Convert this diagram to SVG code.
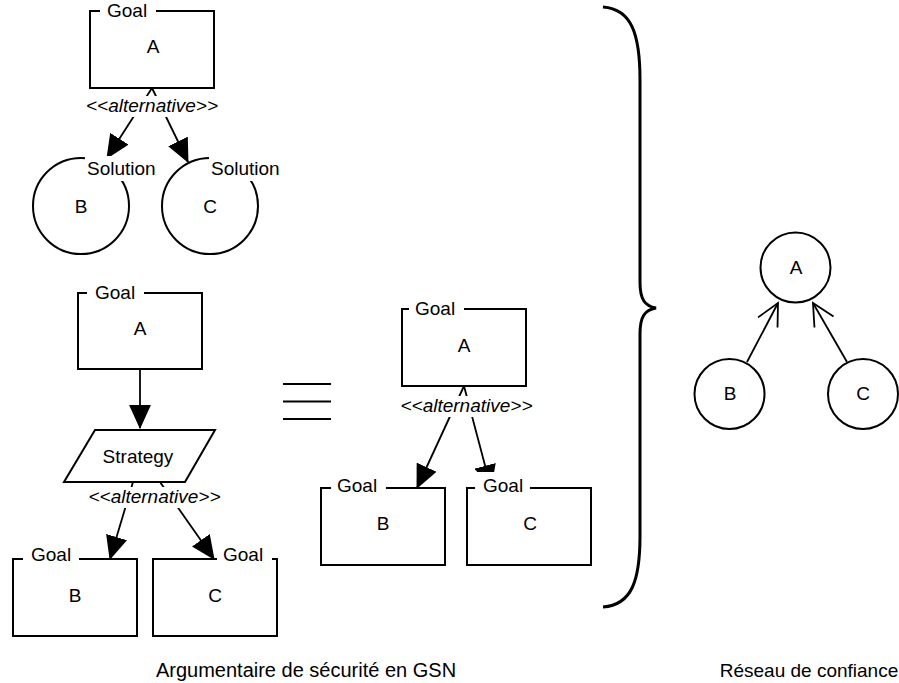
<svg xmlns="http://www.w3.org/2000/svg" width="899" height="683" viewBox="0 0 899 683">
<style>
text{font-family:"Liberation Sans",Arial,Helvetica,sans-serif;font-size:19px;fill:#000}
.c{text-anchor:middle}
.it{font-style:italic}
.sh{fill:none;stroke:#000;stroke-width:2}
.ln{fill:none;stroke:#000;stroke-width:1.8}
.bg{fill:#fff;stroke:none}
</style>
<defs>
<marker id="blk" markerUnits="userSpaceOnUse" markerWidth="24" markerHeight="22" viewBox="0 0 22 20" refX="21" refY="10" orient="auto">
<path d="M0,0 L22,10 L0,20 z" fill="#000"/>
</marker>
<marker id="opn" markerUnits="userSpaceOnUse" markerWidth="26" markerHeight="26" viewBox="-2 -13 26 26" refX="22" refY="0" orient="auto">
<path d="M0,-11 L22,0 L0,11" fill="none" stroke="#000" stroke-width="1.8"/>
</marker>
</defs>

<g id="connectors">
<line class="ln" x1="152" y1="88" x2="107" y2="158" marker-end="url(#blk)"/>
<line class="ln" x1="152" y1="88" x2="188" y2="162" marker-end="url(#blk)"/>
<rect class="bg" x="82" y="96" width="140" height="21"/>
<text class="c it" x="152" y="112">&lt;&lt;alternative&gt;&gt;</text>

<line class="ln" x1="140" y1="369" x2="140" y2="428" marker-end="url(#blk)"/>

<line class="ln" x1="133" y1="482" x2="110" y2="559" marker-end="url(#blk)"/>
<line class="ln" x1="160" y1="482" x2="214" y2="559" marker-end="url(#blk)"/>
<rect class="bg" x="85" y="487" width="140" height="21"/>
<text class="c it" x="154.5" y="503">&lt;&lt;alternative&gt;&gt;</text>

<line class="ln" x1="464" y1="386" x2="417" y2="488" marker-end="url(#blk)"/>
<line class="ln" x1="464" y1="386" x2="491" y2="488" marker-end="url(#blk)"/>
<rect class="bg" x="396" y="396" width="140" height="21"/>
<text class="c it" x="466.5" y="412">&lt;&lt;alternative&gt;&gt;</text>

<line class="ln" x1="747" y1="362" x2="778" y2="303" marker-end="url(#opn)"/>
<line class="ln" x1="847" y1="362" x2="813" y2="303" marker-end="url(#opn)"/>
</g>

<g id="goal-a-top">
<path class="sh" d="M100,11 H90 V88 H214 V11 H156"/>
<text x="107" y="17">Goal</text>
<text class="c" x="153" y="53">A</text>
</g>
<g id="solution-b">
<circle class="sh" cx="81" cy="206" r="48"/>
<rect class="bg" x="85" y="156" width="76" height="25"/>
<text x="87" y="175">Solution</text>
<text class="c" x="81" y="213">B</text>
</g>
<g id="solution-c">
<circle class="sh" cx="210" cy="206" r="48"/>
<rect class="bg" x="209" y="156" width="76" height="25"/>
<text x="211" y="175">Solution</text>
<text class="c" x="210" y="213">C</text>
</g>

<g id="goal-a-mid">
<path class="sh" d="M87,293 H78 V369 H202 V293 H144"/>
<text x="95" y="299">Goal</text>
<text class="c" x="140" y="335">A</text>
</g>
<g id="strategy">
<path class="sh" d="M95,430 H215 L185,482 H64 Z"/>
<text class="c" x="138" y="463">Strategy</text>
</g>
<g id="goal-b-bottom">
<path class="sh" d="M23,559 H13 V636 H137 V559 H79"/>
<text x="31" y="561">Goal</text>
<text class="c" x="75" y="602">B</text>
</g>
<g id="goal-c-bottom">
<path class="sh" d="M217,559 H153 V636 H277 V559 H272"/>
<rect class="bg" x="218" y="545" width="52" height="22"/>
<text x="223" y="561">Goal</text>
<text class="c" x="215" y="602">C</text>
</g>

<g id="equivalence">
<line class="sh" x1="283" y1="384" x2="331" y2="384"/>
<line class="sh" x1="283" y1="401.5" x2="331" y2="401.5"/>
<line class="sh" x1="283" y1="419" x2="331" y2="419"/>
</g>

<g id="goal-a-right">
<path class="sh" d="M409,309 H402 V386 H526 V309 H464"/>
<text x="415" y="315">Goal</text>
<text class="c" x="464" y="352">A</text>
</g>
<g id="goal-b-right">
<path class="sh" d="M331,488 H321 V565 H445 V488 H386"/>
<text x="337" y="492">Goal</text>
<text class="c" x="383" y="530">B</text>
</g>
<g id="goal-c-right">
<path class="sh" d="M475,488 H467 V565 H591 V488 H530"/>
<rect class="bg" x="476" y="472" width="53" height="22"/>
<text x="483" y="492">Goal</text>
<text class="c" x="530" y="530">C</text>
</g>

<g id="brace">
<path d="M603,7 C632,9 640,35 640,80 V282 C640,300 645,306 656,308 C645,310 640,316 640,334 V536 C640,580 632,605 603,607" fill="none" stroke="#000" stroke-width="3"/>
</g>

<g id="net-a">
<circle class="sh" cx="795.5" cy="267.5" r="35"/>
<text class="c" x="796" y="274">A</text>
</g>
<g id="net-b">
<circle class="sh" cx="729.5" cy="394" r="35"/>
<text class="c" x="730" y="400">B</text>
</g>
<g id="net-c">
<circle class="sh" cx="863" cy="394" r="35"/>
<text class="c" x="863" y="400">C</text>
</g>

<g id="captions">
<text class="c" x="306" y="677" style="font-size:20px">Argumentaire de sécurité en GSN</text>
<text class="c" x="809" y="677">Réseau de confiance</text>
</g>
</svg>
